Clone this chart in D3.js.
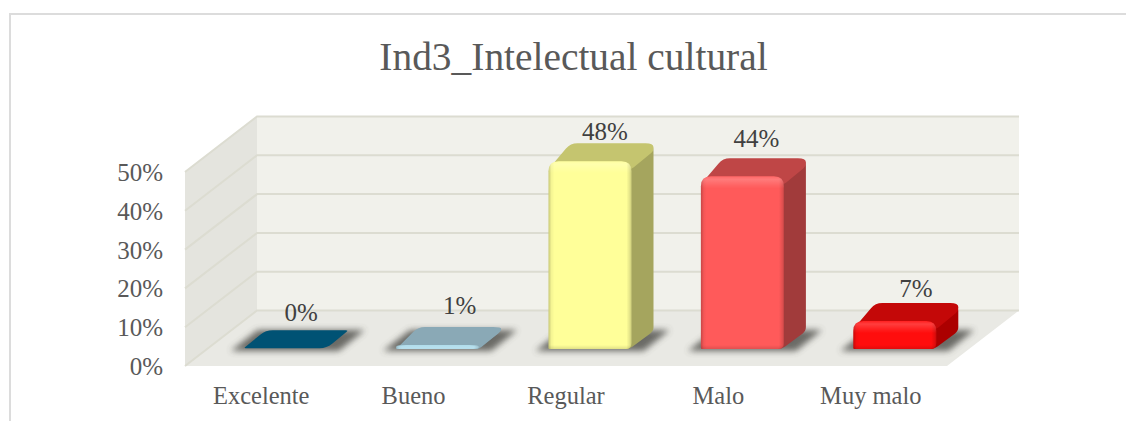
<!DOCTYPE html>
<html><head><meta charset="utf-8">
<style>html,body{margin:0;padding:0;background:#fff}svg{display:block}text{font-family:"Liberation Serif",serif}</style>
<script src="https://cdn.jsdelivr.net/npm/d3@7"></script></head>
<body><svg id="c" width="1126" height="421"></svg>
<script>
const categories=["Excelente","Bueno","Regular","Malo","Muy malo"];
const values=[0.2,1,48.4,44.5,7.2];
const labels=["0%","1%","48%","44%","7%"];
const frontColors=["#00557a","#a9d9e9","#ffff99","#ff5a5a","#ff0d0d"];
const topColors=["#005274","#8aa9b6","#c5c56f","#bf4646","#c40808"];
const sideColors=["#003f5a","#7f9eac","#a5a55e","#a13b3b","#ab0000"];
const yTicks=[0,10,20,30,40,50];
const labelNudgeX=[16,22,15,14,21];
const labelGapY=[9,13,3,11,6];

const svg=d3.select("#c");
const x=d3.scaleBand().domain(categories).range([185,947]);
const y=d3.scaleLinear().domain([0,50]).range([366,172]);
const wallDx=72,wallDy=-55.5;
const barW=83,barFrontDx=24,barFrontDy=-17,barDx=22,barDy=-18;
const xb=c=>x(c)+x.bandwidth()/2+barFrontDx-barW/2;

const defs=svg.append("defs");
defs.append("filter").attr("id","blur").attr("x","-30%").attr("y","-60%").attr("width","160%").attr("height","220%")
  .append("feGaussianBlur").attr("stdDeviation",3);

function roundPoly(pts,rs){
  const n=pts.length;let d="";
  pts.forEach((p,i)=>{
    const a=pts[(i+n-1)%n],b=pts[(i+1)%n],r=Array.isArray(rs)?rs[i]:rs;
    const la=Math.hypot(a[0]-p[0],a[1]-p[1]),lb=Math.hypot(b[0]-p[0],b[1]-p[1]);
    const ra=Math.min(r,la/2),rb=Math.min(r,lb/2);
    const s=[p[0]+(a[0]-p[0])*ra/(la||1),p[1]+(a[1]-p[1])*ra/(la||1)];
    const e=[p[0]+(b[0]-p[0])*rb/(lb||1),p[1]+(b[1]-p[1])*rb/(lb||1)];
    d+=(i?"L":"M")+s[0]+","+s[1]+"Q"+p[0]+","+p[1]+" "+e[0]+","+e[1];
  });
  return d+"Z";
}

// frame
svg.append("path").attr("d","M1126,14H10V421").attr("fill","none").attr("stroke","#dcdcdc").attr("stroke-width",2);

// title
svg.append("text").attr("x",573.5).attr("y",70).attr("text-anchor","middle").attr("font-size",39.4)
  .attr("fill","#595959").text("Ind3_Intelectual cultural");

// walls
const y0=y(0),y50=y(50),xL=x.range()[0],xR=x.range()[1];
svg.append("polygon").attr("points",[[xL,y50],[xL+wallDx,y50+wallDy],[xL+wallDx,y0+wallDy],[xL,y0]].join(" ")).attr("fill","#e4e4de");
svg.append("polygon").attr("points",[[xL+wallDx,y50+wallDy],[xR+wallDx,y50+wallDy],[xR+wallDx,y0+wallDy],[xL+wallDx,y0+wallDy]].join(" ")).attr("fill","#f1f1eb");
svg.append("polygon").attr("points",[[xL,y0],[xL+wallDx,y0+wallDy],[xR+wallDx,y0+wallDy],[xR,y0]].join(" ")).attr("fill","#e9e9e4");
// gridlines
yTicks.forEach(t=>{
  svg.append("path").attr("d",`M${xL},${y(t)}L${xL+wallDx},${y(t)+wallDy}L${xR+wallDx},${y(t)+wallDy}`)
    .attr("fill","none").attr("stroke","#dcdcd1").attr("stroke-width",2);
});

// axes
const ay=svg.append("g").attr("transform","translate(163,0)")
  .call(d3.axisLeft(y).tickValues(yTicks).tickSize(0).tickPadding(0).tickFormat(d=>d+"%"));
ay.select(".domain").remove();
ay.selectAll("text").attr("font-size",25).attr("fill","#595959").attr("dy","0.34em").attr("font-family","Liberation Serif");
const ax=svg.append("g").attr("transform","translate(0,404)")
  .call(d3.axisBottom(x).tickSize(0).tickPadding(0));
ax.select(".domain").remove();
ax.selectAll("text").attr("font-size",24.5).attr("fill","#595959").attr("dy",0).attr("font-family","Liberation Serif");

// bars
const base=y(0)+barFrontDy;
const bars=svg.append("g");
categories.forEach((c,i)=>{
  const x0=xb(c),x1=x0+barW,h=y(0)-y(values[i]),yT=base-h;
  const g=bars.append("g");
  const tall=h>1.5;
  const fold=Math.min(8,h);
  // shadow
  g.append("polygon").attr("points",[[x0-13,base+2],[x1+12,base+2],[x1+barDx+16,base+barDy-1],[x0+barDx-8,base+barDy-1]].join(" "))
    .attr("fill","#4c4c46").attr("opacity",.8).attr("filter","url(#blur)");
  // side
  if(tall) g.append("path").attr("d",roundPoly([[x1-8,yT+2],[x1+barDx,yT+barDy],[x1+barDx,base+barDy],[x1-2,base],[x1-8,base]],[0,8,4,4,0])).attr("fill",sideColors[i]);
  // top, wrapped down behind the front corners
  const topPts=tall
    ?[[x0,yT+fold],[x0+barDx,yT+barDy],[x1+barDx,yT+barDy],[x1+barDx,yT+barDy+fold],[x1,yT+fold]]
    :[[x0,yT],[x0+barDx,yT+barDy],[x1+barDx,yT+barDy],[x1,yT]];
  g.append("path").attr("d",roundPoly(topPts,tall?[3,7,8,3,3]:[2,7,3,7])).attr("fill",topColors[i]);
  // front
  if(tall){
    const gid="edge"+i,vid="gloss"+i;
    const gr=defs.append("linearGradient").attr("id",gid).attr("gradientUnits","userSpaceOnUse")
      .attr("x1",x0).attr("x2",x1).attr("y1",0).attr("y2",0);
    const w=barW;
    [[0,.22],[3/w,.04],[6/w,0],[(w-5)/w,0],[(w-1.5)/w,.12],[1,.22]].forEach(s=>gr.append("stop").attr("offset",s[0]).attr("stop-color","#000").attr("stop-opacity",s[1]));
    const vg=defs.append("linearGradient").attr("id",vid).attr("gradientUnits","userSpaceOnUse")
      .attr("x1",0).attr("x2",0).attr("y1",yT).attr("y2",base);
    const fh=base-yT,p=v=>Math.min(1,v/fh);
    [[0,"#fff",.08],[p(3),"#fff",.2],[p(9),"#fff",.06],[p(12),"#fff",0],[Math.max(p(12),1-p(4)),"#000",0],[1,"#000",.12]]
      .forEach(s=>vg.append("stop").attr("offset",s[0]).attr("stop-color",s[1]).attr("stop-opacity",s[2]));
    const d=roundPoly([[x0,yT],[x1,yT],[x1,base],[x0,base]],[10,10,6,1]);
    g.append("path").attr("d",d).attr("fill",frontColors[i]);
    g.append("path").attr("d",d).attr("fill",`url(#${gid})`);
    g.append("path").attr("d",d).attr("fill",`url(#${vid})`);
  }
  // value label
  g.append("text").attr("x",x0+barW/2+labelNudgeX[i]).attr("y",yT+barDy-labelGapY[i])
    .attr("text-anchor","middle").attr("font-size",25).attr("fill","#404040").text(labels[i]);
});
</script></body></html>
